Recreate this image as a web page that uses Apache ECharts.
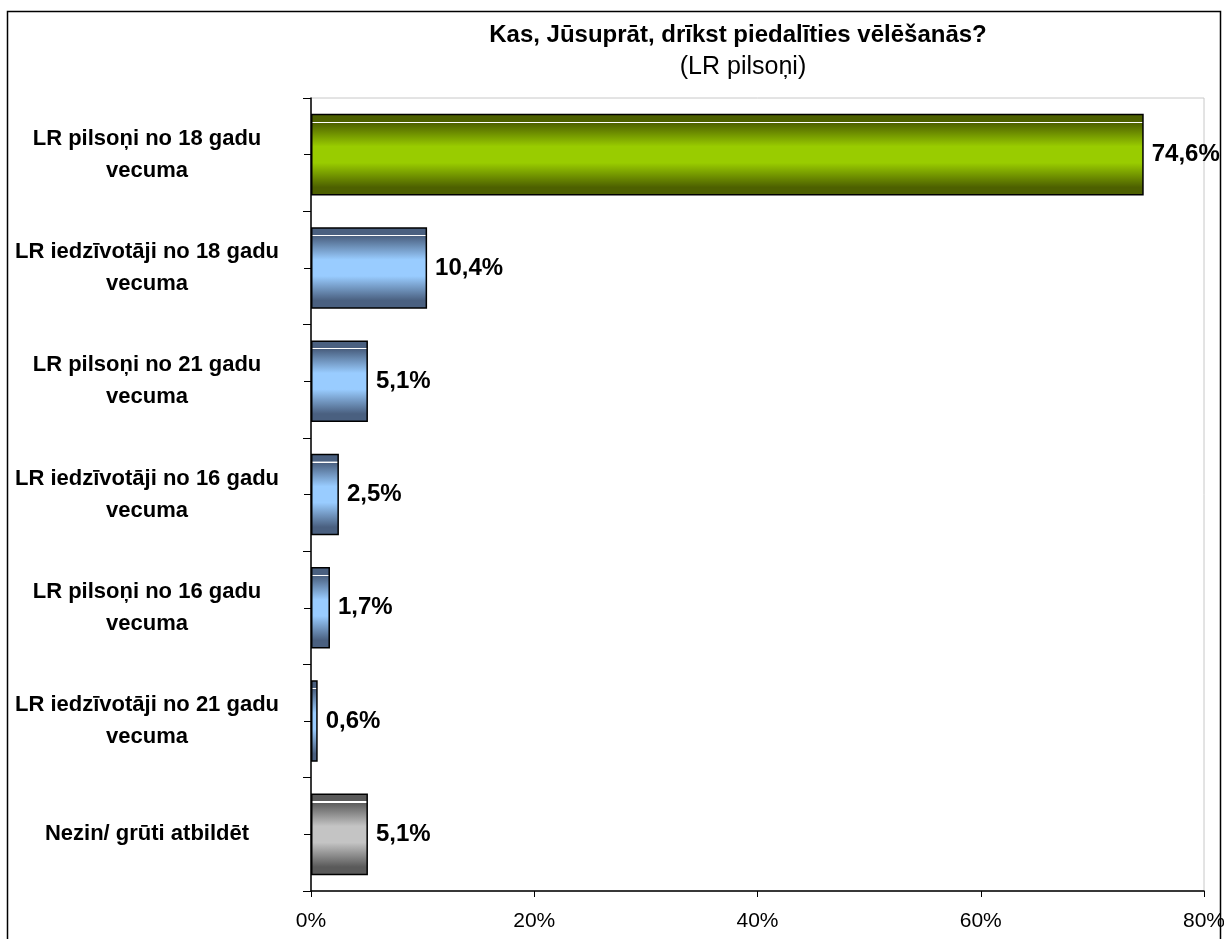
<!DOCTYPE html>
<html>
<head>
<meta charset="utf-8">
<script src="https://cdn.jsdelivr.net/npm/echarts@6/dist/echarts.min.js"></script>
<style>
  html, body { margin: 0; padding: 0; background: #fff; }
  #chart { width: 1224px; height: 939px; }
</style>
</head>
<body>
<div id="chart"></div>
<script>
// dati
const categories = [
  'LR pilsoņi no 18 gadu\nvecuma',
  'LR iedzīvotāji no 18 gadu\nvecuma',
  'LR pilsoņi no 21 gadu\nvecuma',
  'LR iedzīvotāji no 16 gadu\nvecuma',
  'LR pilsoņi no 16 gadu\nvecuma',
  'LR iedzīvotāji no 21 gadu\nvecuma',
  'Nezin/ grūti atbildēt'
]
const values = [74.6, 10.4, 5.1, 2.5, 1.7, 0.6, 5.1]
const xTicks = [0, 20, 40, 60, 80]

const titleText = 'Kas, Jūsuprāt, drīkst piedalīties vēlēšanās?'
const subtitleText = '(LR pilsoņi)'

const font = 'Liberation Sans, Arial, sans-serif'

// stabiņu krāsas: malas tumšas, vidus gaišs, augšā plāna balta līnija
const grad = (edge, mid) => new echarts.graphic.LinearGradient(0, 0, 0, 1, [
  { offset: 0, color: edge },
  { offset: 0.095, color: edge },
  { offset: 0.096, color: '#ffffff' },
  { offset: 0.11, color: '#ffffff' },
  { offset: 0.111, color: edge },
  { offset: 0.4, color: mid },
  { offset: 0.6, color: mid },
  { offset: 0.9, color: edge },
  { offset: 1, color: edge }
])
const pickColor = (i) => {
  if (i === 0) return grad('#4d6000', '#99cc00')
  if (i === values.length - 1) return grad('#5a5a5a', '#c4c4c4')
  return grad('#4a6080', '#99ccff')
}

const chart = echarts.init(document.getElementById('chart'))

const option = {
  backgroundColor: '#fff',
  animation: false,
  title: [
    {
      text: titleText,
      left: 733, top: 18, textAlign: 'center',
      textStyle: { fontFamily: font, fontSize: 24, fontWeight: 'bold', color: '#000' }
    },
    {
      text: subtitleText,
      left: 738, top: 50, textAlign: 'center',
      textStyle: { fontFamily: font, fontSize: 25, fontWeight: 'normal', color: '#000' }
    }
  ],
  graphic: [
    {
      type: 'rect',
      shape: { x: 7.5, y: 11.5, width: 1213, height: 960 },
      style: { fill: 'none', stroke: '#000', lineWidth: 1.5 },
      silent: true
    }
  ],
  grid: {
    left: 311, right: 20, top: 98, bottom: 48,
    outerBoundsMode: 'none',
    show: true, borderColor: '#c8c8c8', borderWidth: 1
  },
  xAxis: {
    type: 'value',
    min: 0, max: 80, interval: 20,
    axisLine: { show: true, lineStyle: { color: '#000', width: 1.5 } },
    axisTick: { show: true, length: 6, lineStyle: { color: '#000' } },
    splitLine: { show: false },
    axisLabel: {
      margin: 20,
      fontFamily: font, fontSize: 21, color: '#000',
      formatter: (v) => xTicks.includes(v) ? v + '%' : ''
    }
  },
  yAxis: [
    {
      type: 'category',
      inverse: true,
      data: categories,
      axisLine: { show: true, lineStyle: { color: '#000', width: 1.5 } },
      axisTick: { show: true, length: 8, lineStyle: { color: '#000' } },
      axisLabel: {
        margin: 164,
        align: 'center',
        lineHeight: 32,
        fontFamily: font, fontSize: 22, fontWeight: 'bold', color: '#000'
      }
    },
    {
      // ķeksīši kategoriju vidū
      type: 'category',
      inverse: true,
      position: 'left',
      data: categories,
      axisLine: { show: false },
      axisTick: { show: true, alignWithLabel: true, length: 7, lineStyle: { color: '#000' } },
      axisLabel: { show: false }
    }
  ],
  series: [
    {
      type: 'bar',
      barCategoryGap: '28%',
      data: values.map((v, i) => ({
        value: v,
        itemStyle: { color: pickColor(i), borderColor: '#000', borderWidth: 1.5 }
      })),
      label: {
        show: true,
        position: 'right',
        distance: 8,
        fontFamily: font, fontSize: 24, fontWeight: 'bold', color: '#000',
        formatter: (p) => p.value.toFixed(1).replace('.', ',') + '%'
      }
    }
  ]
}

chart.setOption(option)
</script>
</body>
</html>
